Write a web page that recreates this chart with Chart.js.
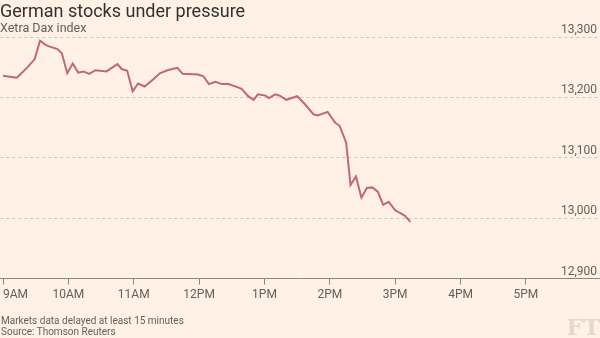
<!DOCTYPE html>
<html lang="en">
<head>
    <meta charset="UTF-8">
    <title>German stocks under pressure</title>
    <script src="https://cdn.jsdelivr.net/npm/chart.js"></script>
    <style>
        body {
            margin: 0;
            background-color: #fff1e5;
            font-family: Roboto, sans-serif;
        }

        .wrap {
            position: relative;
            width: 600px;
            height: 338px;
            overflow: hidden;
        }

        .wrap canvas {
            position: absolute;
            left: 0;
            top: 0;
        }

        .title {
            position: absolute;
            left: 0;
            top: 0;
            font-size: 18px;
            line-height: 22px;
            color: #33302e;
        }

        .subtitle {
            position: absolute;
            left: 0;
            top: 20px;
            font-size: 12.5px;
            line-height: 16px;
            color: #66605c;
        }

        .notes {
            position: absolute;
            left: 1px;
            top: 315px;
            font-size: 10px;
            line-height: 11px;
            color: #66605c;
        }

        .logo {
            position: absolute;
            right: 0;
            top: 313px;
            font-family: "DejaVu Serif", serif;
            font-weight: bold;
            font-size: 23px;
            color: #e3d9cf;
        }
    </style>
</head>
<body>
    <div class="wrap">
        <canvas id="daxChart" width="600" height="338"></canvas>
        <div class="title">German stocks under pressure</div>
        <div class="subtitle">Xetra Dax index</div>
        <div class="notes">Markets data delayed at least 15 minutes<br>Source: Thomson Reuters</div>
        <div class="logo">FT</div>
    </div>

    <script>
        // minutes after 9AM
        const minutes = [0, 11, 13, 23, 29, 34, 39, 43, 50, 54, 59, 64, 69, 74, 79, 85, 95, 105, 109, 114,
            119, 124, 130, 138, 144, 151, 160, 165, 179, 184, 189, 195, 201, 207, 215, 219, 225, 230, 234,
            241, 244, 250, 254, 260, 270, 277, 285, 289, 298, 305, 309, 315, 319, 324, 329, 334, 339, 344,
            349, 354, 360, 366, 369, 374];
        const daxValues = [13236, 13233, 13233, 13251, 13263, 13294, 13287, 13284, 13280, 13273, 13240,
            13256, 13241, 13243, 13239, 13245, 13243, 13255, 13247, 13244, 13210, 13223, 13218, 13230,
            13240, 13245, 13249, 13239, 13238, 13235, 13222, 13226, 13222, 13222, 13217, 13214, 13202,
            13196, 13205, 13203, 13199, 13205, 13203, 13196, 13202, 13189, 13172, 13170, 13176, 13158,
            13153, 13125, 13055, 13069, 13034, 13050, 13051, 13044, 13022, 13027, 13013, 13007, 13004,
            12994];

        const xTickValues = [0, 60, 120, 180, 240, 300, 360, 420, 480, 540];
        const xTickLabels = ['9AM', '10AM', '11AM', '12PM', '1PM', '2PM', '3PM', '4PM', '5PM', ''];
        const yMin = 12900;
        const yMax = 13300;
        const yStep = 100;

        const textGrey = '#66605c';
        const axisGrey = '#8e8781';

        const ctx = document.getElementById('daxChart').getContext('2d');
        const daxChart = new Chart(ctx, {
            type: 'line',
            data: {
                datasets: [{
                    label: 'Xetra Dax',
                    data: minutes.map((m, i) => ({ x: m, y: daxValues[i] })),
                    borderColor: '#c26679',
                    borderWidth: 2,
                    pointRadius: 0,
                    tension: 0
                }]
            },
            options: {
                responsive: false,
                animation: false,
                layout: {
                    padding: { top: 37, bottom: 33, left: 0, right: 0 }
                },
                plugins: {
                    legend: { display: false },
                    tooltip: { enabled: false }
                },
                scales: {
                    x: {
                        type: 'linear',
                        min: -2.5,
                        max: 548,
                        afterBuildTicks: axis => {
                            axis.ticks = xTickValues.map(v => ({ value: v }));
                        },
                        grid: {
                            drawOnChartArea: false,
                            drawTicks: true,
                            tickLength: 6,
                            tickColor: c => (c.tick && c.tick.value > 480) ? 'transparent' : axisGrey
                        },
                        border: { color: axisGrey, width: 1 },
                        ticks: {
                            align: 'inner',
                            autoSkip: false,
                            maxRotation: 0,
                            padding: 3,
                            color: textGrey,
                            font: { family: 'Roboto', size: 12 },
                            callback: (v, i) => xTickLabels[i]
                        }
                    },
                    y: {
                        position: 'right',
                        min: yMin,
                        max: yMax,
                        grid: {
                            drawTicks: false,
                            color: c => (c.tick && c.tick.value === yMin) ? 'transparent' : '#cfc6bc'
                        },
                        border: { display: false, dash: [3, 3] },
                        ticks: {
                            stepSize: yStep,
                            mirror: true,
                            padding: -3,
                            labelOffset: -7,
                            color: textGrey,
                            font: { family: 'Roboto', size: 12 }
                        }
                    }
                }
            }
        });
    </script>
</body>
</html>
